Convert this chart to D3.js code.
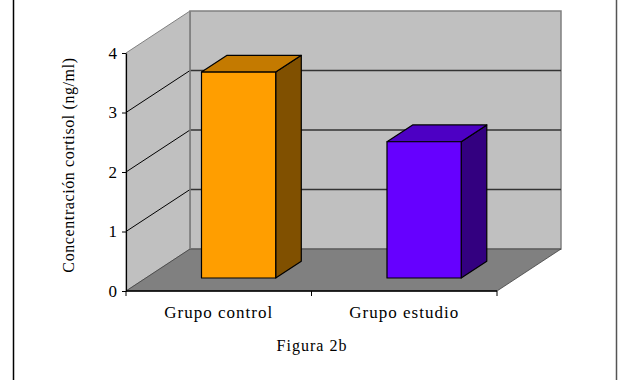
<!DOCTYPE html>
<html>
<head>
<meta charset="utf-8">
<script src="https://cdn.jsdelivr.net/npm/d3@7"></script>
<style>
  html, body { margin: 0; padding: 0; background: #fff; }
  svg { display: block; }
  text { font-family: "Liberation Serif", "Times New Roman", serif; fill: #000; }
</style>
</head>
<body>
<svg id="chart" width="621" height="380"></svg>
<script>
// Cortisol concentration by group
const categories = ["Grupo control", "Grupo estudio"];
const values = [3.46, 2.29];
const yTicks = [0, 1, 2, 3, 4];
const frontColors = ["#ff9e00", "#6600ff"];
const topColors = ["#c47a00", "#4d00c4"];
const sideColors = ["#805000", "#330080"];
const yTitle = "Concentración cortisol (ng/ml)";
const caption = "Figura 2b";

const svg = d3.select("#chart");

// Front plane of the 3D box and its depth offset
const plot = { left: 126, right: 497, top: 53, bottom: 291 };
const depth = { dx: 64, dy: -42 };
const barZ = [0.31, 0.71]; // bar front / back as fractions of the depth

const y = d3.scaleLinear().domain([0, 4]).range([plot.bottom, plot.top]);
const x = d3.scaleBand().domain(categories).range([plot.left, plot.right])
  .paddingInner(0.6).paddingOuter(0.3);

// project (x on front plane, value, depth fraction) into screen coordinates
const P = (px, v, z) => [px + z * depth.dx, y(v) + z * depth.dy];
const poly = pts => "M" + pts.map(p => p.join(",")).join("L") + "Z";

// outer frame lines
svg.append("line").attr("x1", 13.5).attr("x2", 13.5).attr("y1", 0).attr("y2", 380)
  .attr("stroke", "#000").attr("stroke-width", 1.5);
svg.append("line").attr("x1", 616.5).attr("x2", 616.5).attr("y1", 0).attr("y2", 380)
  .attr("stroke", "#555").attr("stroke-width", 1.5);

const xL = plot.left, xR = plot.right;
const vMax = 4;

// back wall
svg.append("path")
  .attr("d", poly([P(xL, 0, 1), P(xR, 0, 1), P(xR, vMax, 1), P(xL, vMax, 1)]))
  .attr("fill", "#c0c0c0").attr("stroke", "#808080").attr("stroke-width", 1.5);
// left wall
svg.append("path")
  .attr("d", poly([P(xL, 0, 0), P(xL, 0, 1), P(xL, vMax, 1), P(xL, vMax, 0)]))
  .attr("fill", "#c0c0c0").attr("stroke", "#808080").attr("stroke-width", 1);
// floor
svg.append("path")
  .attr("d", poly([P(xL, 0, 0), P(xR, 0, 0), P(xR, 0, 1), P(xL, 0, 1)]))
  .attr("fill", "#808080").attr("stroke", "#404040").attr("stroke-width", 0.8);

// gridlines on the back and left walls
const grid = yTicks.filter(v => v > 0 && v < vMax);
svg.append("g").selectAll("line.back").data(grid).join("line")
  .attr("x1", d => P(xL, d, 1)[0]).attr("y1", d => P(xL, d, 1)[1])
  .attr("x2", d => P(xR, d, 1)[0]).attr("y2", d => P(xR, d, 1)[1])
  .attr("stroke", "#333").attr("stroke-width", 1.5);
svg.append("g").selectAll("line.side").data(grid).join("line")
  .attr("x1", d => P(xL, d, 0)[0]).attr("y1", d => P(xL, d, 0)[1])
  .attr("x2", d => P(xL, d, 1)[0]).attr("y2", d => P(xL, d, 1)[1])
  .attr("stroke", "#000").attr("stroke-width", 1);
// redraw back-wall left edge on top of gridlines
svg.append("line")
  .attr("x1", P(xL, 0, 1)[0]).attr("y1", P(xL, 0, 1)[1])
  .attr("x2", P(xL, vMax, 1)[0]).attr("y2", P(xL, vMax, 1)[1])
  .attr("stroke", "#808080").attr("stroke-width", 1.5);

// bars
const bars = svg.append("g");
categories.forEach((c, i) => {
  const x0 = x(c), x1 = x(c) + x.bandwidth();
  const v = values[i];
  const [zf, zb] = barZ;
  const g = bars.append("g").attr("stroke", "#000").attr("stroke-width", 1.2)
    .attr("stroke-linejoin", "round");
  // side face
  g.append("path").attr("fill", sideColors[i])
    .attr("d", poly([P(x1, 0, zf), P(x1, 0, zb), P(x1, v, zb), P(x1, v, zf)]));
  // top face
  g.append("path").attr("fill", topColors[i])
    .attr("d", poly([P(x0, v, zf), P(x1, v, zf), P(x1, v, zb), P(x0, v, zb)]));
  // front face
  g.append("path").attr("fill", frontColors[i])
    .attr("d", poly([P(x0, 0, zf), P(x1, 0, zf), P(x1, v, zf), P(x0, v, zf)]));
});

// value axis
const yAxis = svg.append("g")
  .attr("transform", `translate(${plot.left},0)`)
  .call(d3.axisLeft(y).tickValues(yTicks).tickFormat(d3.format("d"))
    .tickSize(4).tickSizeOuter(0).tickPadding(5));
yAxis.select(".domain").attr("stroke", "#000").attr("stroke-width", 1.2);
yAxis.selectAll(".tick line").attr("stroke", "#000");
yAxis.selectAll(".tick text").attr("font-size", 17)
  .attr("font-family", "Liberation Serif").attr("fill", "#000");

// category axis: line with ticks at band boundaries
const bounds = [plot.left, ...categories.map(c => x(c) - x.step() * x.paddingInner() / 2 + x.step()).slice(0, -1), plot.right];
const xAxis = svg.append("g");
xAxis.append("line").attr("x1", plot.left).attr("x2", plot.right)
  .attr("y1", plot.bottom).attr("y2", plot.bottom)
  .attr("stroke", "#000").attr("stroke-width", 1.5);
xAxis.selectAll("line.tick").data(bounds).join("line")
  .attr("x1", d => d).attr("x2", d => d)
  .attr("y1", plot.bottom).attr("y2", plot.bottom + 5)
  .attr("stroke", "#000").attr("stroke-width", 1);
xAxis.selectAll("text").data(categories).join("text")
  .attr("x", d => x(d) + x.bandwidth() / 2)
  .attr("y", 318)
  .attr("text-anchor", "middle")
  .attr("font-size", 17)
  .attr("letter-spacing", "1px")
  .text(d => d);

// axis title
svg.append("text")
  .attr("transform", "translate(74,165) rotate(-90)")
  .attr("text-anchor", "middle")
  .attr("font-size", 16)
  .attr("letter-spacing", "0.6px")
  .text(yTitle);

// caption
svg.append("text")
  .attr("x", 312).attr("y", 351)
  .attr("text-anchor", "middle")
  .attr("font-size", 16)
  .attr("letter-spacing", "1px")
  .text(caption);
</script>
</body>
</html>
